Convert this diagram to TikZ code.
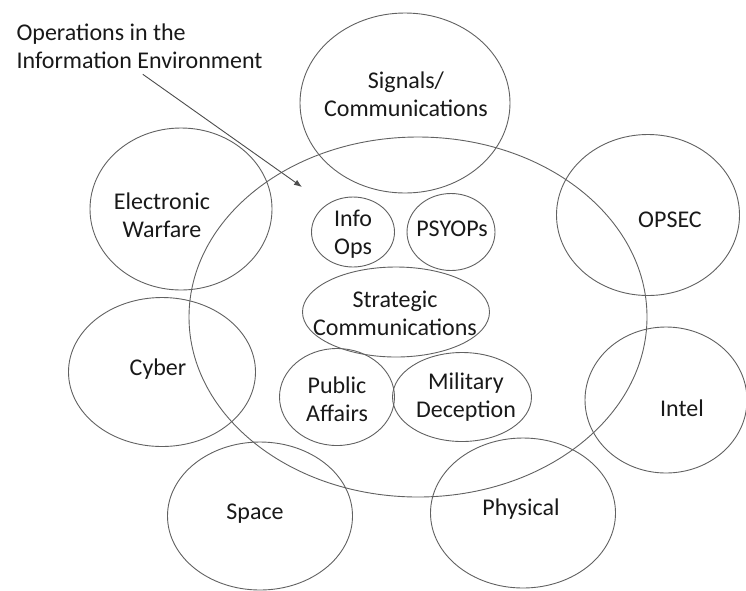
\documentclass[tikz,border=0pt]{standalone}
\usepackage{fontspec}
\setmainfont{Carlito}
\usetikzlibrary{shapes.geometric,arrows.meta}
\begin{document}
\begin{tikzpicture}[x=1pt,y=-1pt,
    zone/.style={draw=black!62,line width=0.9pt,ellipse,inner sep=0pt},
    lbl/.style={text=black!90,align=center,font=\fontsize{24}{28}\selectfont}]
      \useasboundingbox (0,0) rectangle (746,590);
      \draw
        (418,317) node[zone,minimum width=458,minimum height=360] (oie){}
        (405,103) node[zone,minimum width=210,minimum height=180] (sigcom){}
        (181,209) node[zone,minimum width=182,minimum height=162] (ew){}
        (162,372) node[zone,minimum width=187,minimum height=149] (cyber){}
        (260,516) node[zone,minimum width=185,minimum height=148] (space){}
        (523,513) node[zone,minimum width=185,minimum height=150] (physical){}
        (666,400) node[zone,minimum width=162,minimum height=146] (intel){}
        (648,215) node[zone,minimum width=183,minimum height=161] (opsec){}
        (353,232) node[zone,minimum width=83,minimum height=70] (infoops){}
        (451,232) node[zone,minimum width=88,minimum height=77] (psyops){}
        (396,312) node[zone,minimum width=187,minimum height=90] (stratcom){}
        (337,397) node[zone,minimum width=115,minimum height=97] (pubaff){}
        (462,397) node[zone,minimum width=139,minimum height=89] (mildec){};
      \draw
        (13,46) node[lbl,anchor=west,align=left] (title){Operations in the\\Information Environment}
        (406,94) node[lbl] (sigcom-t){Signals/\\Communications}
        (162,215) node[lbl] (ew-t){Electronic\\Warfare}
        (158,369) node[lbl] (cyber-t){Cyber}
        (255,514) node[lbl] (space-t){Space}
        (521,509) node[lbl] (physical-t){Physical}
        (682,408) node[lbl] (intel-t){Intel}
        (670,220) node[lbl] (opsec-t){OPSEC}
        (353,234) node[lbl] (infoops-t){Info\\Ops}
        (452,229) node[lbl] (psyops-t){PSYOPs}
        (395,313) node[lbl] (stratcom-t){Strategic\\Communications}
        (337,399) node[lbl] (pubaff-t){Public\\Affairs}
        (466,397) node[lbl] (mildec-t){Military\\Deception};
      \coordinate (tip) at (302,187);
      \begin{scope}[-{Latex[length=8pt,width=6pt]},draw=black!70,line width=0.9pt]
        \draw[shorten <=4pt] (title.south) to (tip);
      \end{scope}
    \end{tikzpicture}
\end{document}
